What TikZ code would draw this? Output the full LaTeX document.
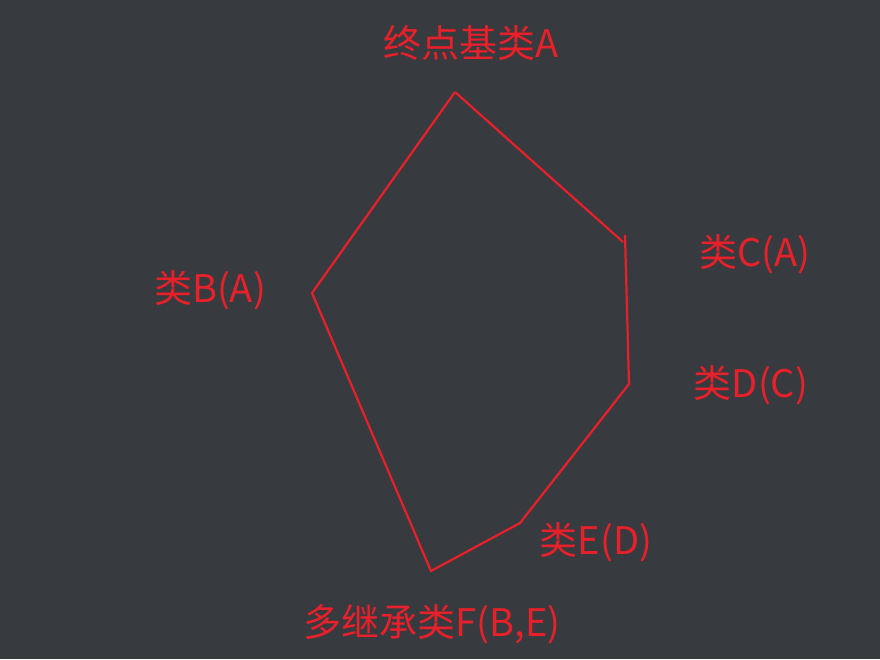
\documentclass[tikz,border=0pt]{standalone}
\usepackage{fontspec}
\newfontfamily\cjk{Noto Sans CJK SC}
\definecolor{bgc}{HTML}{373A3F}
\definecolor{redc}{HTML}{E8202A}
\begin{document}
\begin{tikzpicture}[x=1pt,y=-1pt,
  lbl/.style={text=redc,font=\cjk\fontsize{38}{42}\selectfont,inner sep=0pt,anchor=center},
  edge/.style={draw=redc,line width=2.2pt,line join=miter}]
\fill[bgc] (0,0) rectangle (880,659);
\useasboundingbox (0,0) rectangle (880,659);
% corners
\coordinate (pA) at (455,92);
\coordinate (pC1) at (623,242);
\coordinate (pC2) at (625,235);
\coordinate (pD) at (629,384);
\coordinate (pE) at (520,523);
\coordinate (pF) at (431,571);
\coordinate (pB) at (312,293);
% labels
\node[lbl] (tA) at (471,43) {终点基类A};
\node[lbl] (tC) at (755,254) {类C(A)};
\node[lbl] (tD) at (751,385) {类D(C)};
\node[lbl] (tE) at (596,542) {类E(D)};
\node[lbl] (tF) at (432,624) {多继承类F(B,E)};
\node[lbl] (tB) at (210,290) {类B(A)};
% edges
\draw[edge] (pA) -- (pC1);
\draw[edge] (pC2) -- (pD) -- (pE) -- (pF) -- (pB) -- (pA);
\end{tikzpicture}
\end{document}
